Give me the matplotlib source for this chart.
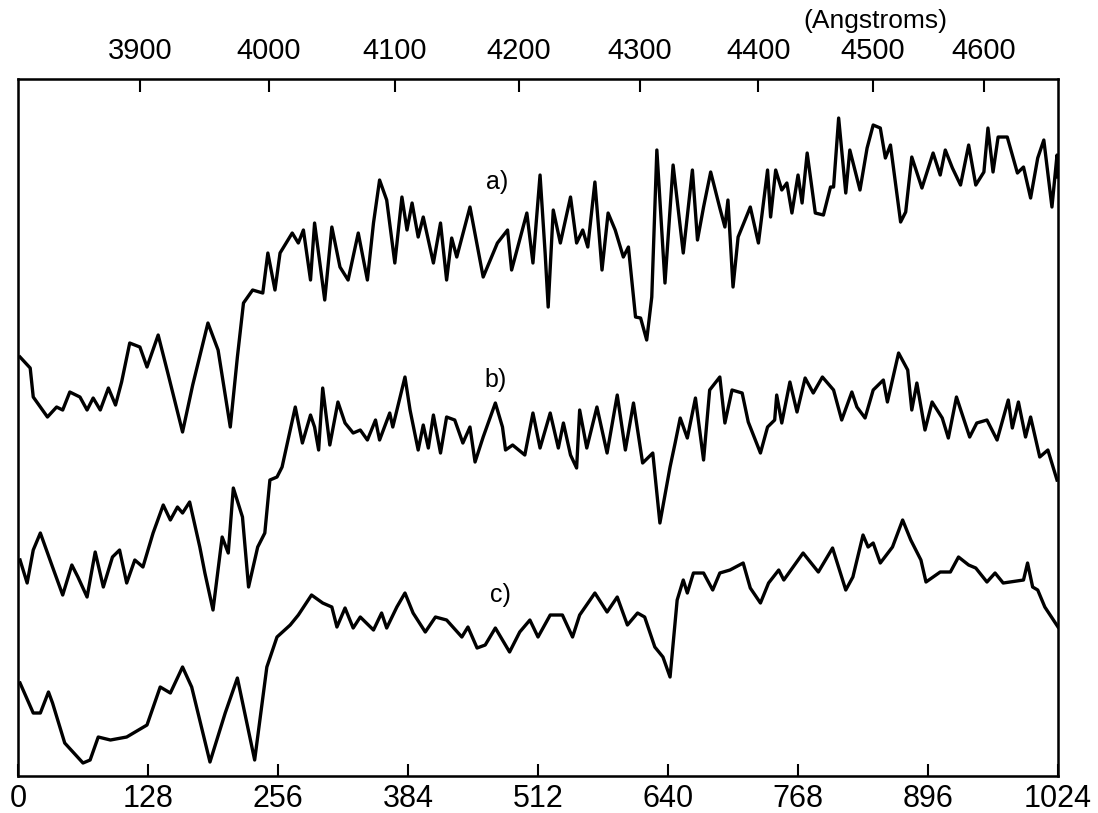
import matplotlib
matplotlib.use("Agg")
import matplotlib.pyplot as plt

plt.rcParams['font.family'] = ['Liberation Sans', 'DejaVu Sans']

# channel positions and relative flux (offset spectra)
a_ch = [2, 12, 15, 29, 38, 44, 51, 61, 68, 74, 81, 89, 96, 102, 110, 120, 127, 138, 148, 162,
        172, 187, 197, 209, 216, 222, 231, 241, 246, 253, 258, 270, 276, 281, 288, 292, 302, 309, 317, 325,
        335, 344, 350, 356, 363, 371, 378, 383, 388, 394, 399, 409, 416, 422, 427, 432, 445, 458, 472, 482,
        486, 501, 507, 514, 519, 522, 527, 534, 544, 550, 556, 561, 568, 575, 581, 588, 596, 601, 608, 613,
        619, 624, 629, 637, 645, 655, 664, 669, 675, 682, 691, 696, 699, 704, 709, 721, 729, 738, 741, 746,
        752, 757, 762, 768, 772, 777, 785, 793, 800, 803, 808, 815, 819, 829, 836, 842, 849, 854, 859, 869,
        874, 880, 890, 901, 908, 913, 920, 928, 936, 943, 951, 955, 960, 965, 974, 984, 990, 997, 1004, 1010,
        1018, 1023, 1024]
a_flux = [419, 408, 379, 359, 369, 366, 384, 379, 366, 378, 366, 388, 371, 394, 433, 429, 409, 441, 401, 344,
          391, 453, 426, 349, 419, 473, 486, 483, 523, 486, 523, 543, 533, 546, 496, 553, 476, 549, 509, 496,
          543, 496, 553, 596, 576, 513, 579, 546, 573, 539, 559, 513, 553, 496, 538, 519, 569, 499, 533, 546,
          506, 563, 513, 601, 523, 469, 566, 533, 579, 533, 546, 529, 594, 506, 563, 546, 519, 529, 459, 458,
          436, 479, 626, 493, 611, 523, 606, 536, 569, 604, 568, 549, 576, 489, 539, 569, 533, 606, 559, 606,
          586, 593, 563, 601, 573, 623, 563, 561, 589, 589, 658, 583, 626, 586, 628, 651, 648, 618, 631, 554,
          564, 619, 588, 623, 601, 626, 608, 591, 631, 591, 604, 648, 604, 639, 639, 603, 609, 578, 618, 636,
          569, 621, 599]

b_ch = [2, 9, 15, 22, 34, 44, 53, 59, 68, 76, 84, 93, 100, 107, 115, 123, 133, 143, 150, 157,
        162, 169, 179, 184, 192, 201, 207, 212, 221, 227, 236, 243, 248, 255, 260, 268, 273, 280, 288, 292,
        296, 300, 307, 315, 322, 330, 337, 344, 352, 356, 366, 369, 381, 386, 394, 399, 404, 409, 416, 422,
        430, 438, 445, 450, 458, 470, 477, 480, 487, 499, 507, 514, 524, 532, 537, 544, 550, 553, 560, 570,
        580, 590, 598, 606, 615, 625, 632, 642, 647, 652, 659, 667, 675, 681, 691, 696, 703, 713, 719, 731,
        738, 745, 747, 752, 760, 767, 775, 783, 792, 803, 811, 821, 826, 834, 842, 852, 856, 867, 876, 880,
        885, 893, 900, 910, 916, 924, 937, 944, 954, 964, 975, 979, 985, 992, 997, 1006, 1014, 1023]
b_flux = [216, 193, 226, 243, 209, 181, 211, 199, 179, 224, 189, 219, 226, 193, 216, 209, 243, 271, 256, 269,
          263, 274, 229, 203, 166, 239, 223, 288, 259, 189, 229, 243, 296, 299, 309, 346, 369, 333, 361, 349,
          326, 388, 331, 374, 353, 343, 346, 336, 356, 336, 363, 349, 399, 366, 326, 351, 328, 361, 323, 359,
          356, 333, 349, 314, 339, 373, 349, 326, 331, 321, 363, 328, 363, 328, 353, 321, 308, 366, 328, 369,
          323, 381, 326, 373, 313, 323, 253, 309, 333, 358, 338, 378, 316, 386, 399, 353, 386, 383, 354, 323,
          349, 356, 381, 353, 394, 364, 398, 383, 399, 386, 356, 384, 369, 358, 386, 396, 374, 423, 406, 366,
          393, 346, 374, 358, 338, 379, 339, 353, 356, 336, 376, 348, 374, 339, 359, 319, 326, 296]

c_ch = [2, 15, 22, 30, 34, 46, 64, 71, 79, 91, 107, 127, 140, 150, 162, 171, 189, 204, 216, 233,
        245, 255, 268, 276, 289, 300, 309, 314, 322, 330, 337, 350, 358, 363, 373, 381, 389, 401, 411, 422,
        437, 443, 452, 460, 470, 484, 494, 504, 512, 524, 536, 546, 553, 568, 580, 590, 600, 610, 617, 627,
        635, 642, 649, 655, 659, 665, 675, 684, 691, 701, 714, 721, 731, 739, 749, 754, 773, 788, 802, 815,
        822, 832, 837, 842, 849, 861, 871, 879, 889, 894, 908, 918, 926, 936, 943, 954, 962, 970, 990, 994,
        999, 1004, 1011, 1024]
c_flux = [93, 63, 63, 84, 73, 33, 13, 16, 39, 36, 39, 51, 89, 83, 109, 89, 14, 63, 98, 16,
          109, 139, 151, 161, 181, 173, 169, 149, 168, 148, 159, 146, 163, 148, 169, 183, 163, 144, 159, 156,
          139, 149, 128, 131, 148, 124, 144, 156, 139, 161, 161, 139, 161, 183, 164, 179, 151, 163, 159, 129,
          119, 99, 176, 196, 183, 203, 203, 186, 203, 206, 213, 188, 173, 193, 206, 196, 223, 204, 228, 186,
          199, 241, 229, 233, 213, 229, 256, 236, 216, 194, 204, 204, 219, 211, 208, 194, 203, 193, 196, 213,
          189, 186, 169, 149]

chan_ticks = [0, 128, 256, 384, 512, 640, 768, 896, 1024]
wave_ticks = [120, 247, 371, 493, 612, 729, 842, 951]
wave_labels = ['3900', '4000', '4100', '4200', '4300', '4400', '4500', '4600']

fig = plt.figure(figsize=(10.98, 8.13), dpi=100)
ax = fig.add_axes([0.0164, 0.0455, 0.9472, 0.8573])

for ch, flux in [(a_ch, a_flux), (b_ch, b_flux), (c_ch, c_flux)]:
    ax.plot(ch, flux, color='black', lw=2.4, solid_joinstyle='round')

ax.text(472, 594, 'a)', fontsize=18, ha='center', va='center')
ax.text(470, 396, 'b)', fontsize=18, ha='center', va='center')
ax.text(475, 181, 'c)', fontsize=18, ha='center', va='center')

ax.set_xlim(0, 1024)
ax.set_ylim(0, 697)
ax.set_yticks([])
ax.set_xticks(chan_ticks)
ax.tick_params(axis='x', direction='in', length=9, width=1.5, labelsize=22, pad=6)
for s in ax.spines.values():
    s.set_linewidth(1.8)

top = ax.twiny()
top.set_xlim(0, 1024)
top.set_xticks(wave_ticks)
top.set_xticklabels(wave_labels)
top.tick_params(axis='x', direction='in', length=9, width=1.5, labelsize=21, pad=10)

fig.text(0.797, 0.974, '(Angstroms)', fontsize=19, ha='center', va='center')

fig.savefig('out.png', dpi=100)
